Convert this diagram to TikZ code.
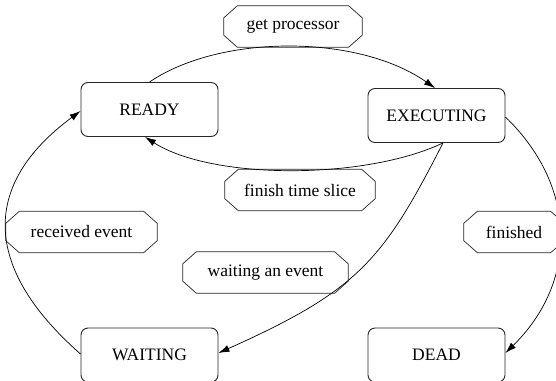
\documentclass[tikz,border=0pt]{standalone}
\usepackage{fontspec}
\setmainfont{Liberation Serif}
\usetikzlibrary{arrows.meta}
\newcommand\octbox[1]{\draw[octoline] ([xshift=13.5pt]#1.north west) -- ([xshift=-13.5pt]#1.north east) -- ([yshift=-12pt]#1.north east) -- ([yshift=12pt]#1.south east) -- ([xshift=-13.5pt]#1.south east) -- ([xshift=13.5pt]#1.south west) -- ([yshift=12pt]#1.south west) -- ([yshift=-12pt]#1.north west) -- cycle;}
\begin{document}
\begin{tikzpicture}[x=1pt,y=-1pt,
  txt/.style={font=\fontsize{17.5}{20}\selectfont},
  state/.style={txt, draw=black!85, rounded corners=7pt, line width=0.9pt, minimum width=137pt, minimum height=54pt, inner sep=0pt},
  lbl/.style={txt, inner sep=0pt, minimum height=41pt},
  octoline/.style={line width=0.7pt, black!85},
  edge/.style={line width=0.7pt, -{Latex[length=11pt,width=7pt]}}]
\useasboundingbox (0,0) rectangle (556,380);
\clip (0,0) rectangle (556,380);
% states
\node[state] (ready) at (149.5,109.5) {READY};
\node[state] (exec) at (436.5,115.5) {EXECUTING};
\node[state] (wait) at (149.5,355) {WAITING};
\node[state] (dead) at (436.5,355) {DEAD};
% labels
\node[lbl, minimum width=138pt] (lgp) at (293,26.5) {get processor};
\node[lbl, minimum width=150pt] (lft) at (300,190) {finish time slice};
\node[lbl, minimum width=151pt] (lre) at (81.5,232) {received event};
\node[lbl, minimum width=165pt] (lwe) at (265.5,272.5) {waiting an event};
\node[lbl, minimum width=100pt] (lfi) at (514,232) {finished};
\octbox{lgp}
\octbox{lft}
\octbox{lre}
\octbox{lwe}
\octbox{lfi}
% edges
\draw[edge] (ready.north) .. controls (220,34) and (358,34) .. ([xshift=-1.5pt]exec.north);
\draw[edge] ([xshift=6.5pt]exec.south) .. controls (365,180) and (212,180) .. ([xshift=-4.5pt]ready.south);
\draw[edge] ([xshift=6.5pt]exec.south) .. controls (383,260.5) and (358,290.5) .. ([yshift=2pt]wait.east);
\draw[edge] ([yshift=1pt]wait.west) .. controls (-18.5,267) and (-18.5,184) .. ([yshift=-1.5pt]ready.west);
\draw[edge] ([yshift=-1.5pt]exec.east) .. controls (578,187) and (578,282) .. ([yshift=2pt]dead.east);
\end{tikzpicture}
\end{document}
